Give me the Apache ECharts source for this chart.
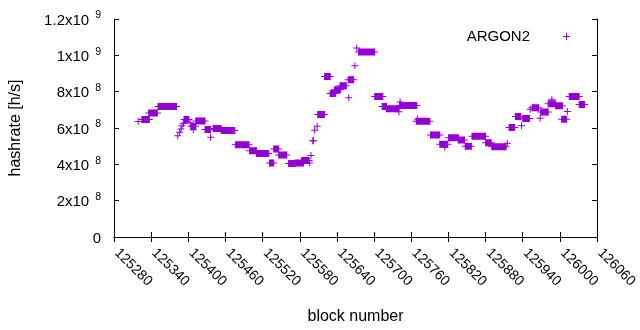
<!DOCTYPE html>
<html>
<head>
<meta charset="utf-8">
<script src="https://cdn.jsdelivr.net/npm/echarts@6/dist/echarts.min.js"></script>
<style>
  html, body { margin: 0; padding: 0; background: #fff; }
  #chart { width: 640px; height: 330px; }
</style>
</head>
<body>
<div id="chart"></div>
<script>
// runs of blocks with the same hashrate (a single point when from == to)
const blockFrom = [
  125319, 125325, 125336, 125351, 125383, 125386, 125388, 125390, 125392, 125393,
  125403, 125404, 125408, 125412, 125427, 125436, 125440, 125453, 125476, 125499,
  125510, 125531, 125538, 125546, 125562, 125573, 125583, 125596, 125598, 125601,
  125604, 125608, 125609, 125620, 125629, 125636, 125645, 125659, 125658, 125669,
  125672, 125675, 125701, 125713, 125720, 125740, 125742, 125741, 125770, 125768,
  125791, 125806, 125814, 125820, 125836, 125847, 125858, 125880, 125890, 125915,
  125918, 125928, 125938, 125940, 125952, 125955, 125968, 125969, 125987, 125981,
  125993, 126003, 126012, 126015, 126031
]
const blockTo = [
  125319, 125337, 125350, 125381, 125383, 125386, 125388, 125390, 125392, 125401,
  125403, 125412, 125408, 125427, 125436, 125436, 125453, 125475, 125498, 125510,
  125530, 125538, 125546, 125559, 125572, 125586, 125595, 125596, 125598, 125602,
  125604, 125608, 125620, 125629, 125638, 125646, 125655, 125659, 125667, 125669,
  125672, 125701, 125714, 125720, 125740, 125740, 125742, 125769, 125770, 125790,
  125806, 125819, 125814, 125836, 125846, 125857, 125880, 125889, 125913, 125915,
  125927, 125937, 125938, 125951, 125952, 125966, 125968, 125981, 125987, 125993,
  126004, 126011, 126012, 126031, 126040
]
// hashrate in units of 1e8 h/s
const hashrate = [
  6.36, 6.47, 6.83, 7.18, 5.57, 5.76, 5.94, 6.12, 6.25, 6.47,
  6.27, 6.10, 5.90, 6.38, 5.92, 5.49, 5.97, 5.86, 5.08, 4.75,
  4.60, 4.08, 4.85, 4.52, 4.04, 4.07, 4.21, 4.08, 4.48, 5.30,
  5.88, 6.10, 6.74, 8.83, 7.90, 8.11, 8.33, 7.67, 8.65, 9.42,
  10.40, 10.18, 7.73, 7.19, 7.06, 6.89, 7.43, 7.24, 6.49, 6.37,
  5.62, 5.10, 4.94, 5.47, 5.34, 5.00, 5.55, 5.19, 4.97, 5.16,
  6.03, 6.63, 6.12, 6.52, 7.03, 7.12, 6.53, 6.88, 7.58, 7.34,
  7.23, 6.48, 6.91, 7.74, 7.29
]
const yTickBase = ['0', '2x10', '4x10', '6x10', '8x10', '1x10', '1.2x10']
const yTickExp = ['', '8', '8', '8', '8', '9', '9']

const purple = '#9400d3'
const font = '"Liberation Sans", Arial, sans-serif'
const plus = 'path://M3,0h1v7h-1zM0,3h7v1h-7z'

const points = []
const runSeries = []
for (let i = 0; i < blockFrom.length; i++) {
  const v = hashrate[i] * 1e8
  points.push([blockFrom[i], v])
  if (blockTo[i] !== blockFrom[i]) {
    points.push([blockTo[i], v])
    runSeries.push({
      type: 'line',
      data: [[blockFrom[i], v], [blockTo[i], v]],
      showSymbol: false,
      silent: true,
      lineStyle: { color: purple, width: 7, cap: 'butt' },
      z: 1
    })
  }
}

const chart = echarts.init(document.getElementById('chart'))
const tickStyle = { show: true, inside: true, length: 5, lineStyle: { color: '#000' } }
const lineStyle = { show: true, lineStyle: { color: '#000', width: 1 } }

chart.setOption({
  animation: false,
  backgroundColor: '#fff',
  textStyle: { fontFamily: font },
  grid: { left: 114, top: 19, width: 495, height: 220 },
  legend: {
    right: 65,
    top: 24,
    align: 'right',
    itemWidth: 7,
    itemHeight: 7,
    data: [{ name: 'ARGON2', icon: plus }],
    textStyle: { fontSize: 15, color: '#000', padding: [0, 28, 0, 0] }
  },
  xAxis: [
    {
      type: 'value',
      min: 125280,
      max: 126060,
      interval: 60,
      name: 'block number',
      nameLocation: 'middle',
      nameGap: 72,
      nameTextStyle: { fontSize: 16, color: '#000' },
      axisLine: lineStyle,
      axisTick: tickStyle,
      splitLine: { show: false },
      axisLabel: {
        rotate: -45,
        margin: 11,
        fontSize: 14,
        color: '#000',
        padding: [0, 0, 0, 4],
        formatter: function (val) { return String(val) }
      }
    },
    {
      type: 'value',
      position: 'top',
      min: 125280,
      max: 126060,
      interval: 60,
      axisLine: lineStyle,
      axisTick: tickStyle,
      splitLine: { show: false },
      axisLabel: { show: false }
    }
  ],
  yAxis: [
    {
      type: 'value',
      min: 0,
      max: 1.2e9,
      interval: 2e8,
      name: 'hashrate [h/s]',
      nameLocation: 'middle',
      nameGap: 90,
      nameTextStyle: { fontSize: 16, color: '#000' },
      axisLine: lineStyle,
      axisTick: tickStyle,
      splitLine: { show: false },
      axisLabel: {
        margin: 13,
        color: '#000',
        fontSize: 15,
        formatter: function (val) {
          const i = Math.round(val / 2e8)
          if (!yTickExp[i]) return '{b|' + yTickBase[i] + '}'
          return '{b|' + yTickBase[i] + '}{s|' + yTickExp[i] + '}'
        },
        rich: {
          b: { fontSize: 15, lineHeight: 18, color: '#000', verticalAlign: 'bottom' },
          s: { fontSize: 10.5, lineHeight: 10.5, color: '#000', verticalAlign: 'top', padding: [0, 0, 0, 6] }
        }
      }
    },
    {
      type: 'value',
      position: 'right',
      min: 0,
      max: 1.2e9,
      interval: 2e8,
      axisLine: lineStyle,
      axisTick: tickStyle,
      splitLine: { show: false },
      axisLabel: { show: false }
    }
  ],
  series: [
    {
      name: 'ARGON2',
      type: 'scatter',
      symbol: plus,
      symbolSize: 7,
      itemStyle: { color: purple, opacity: 1 },
      data: points,
      z: 2
    }
  ].concat(runSeries)
})
</script>
</body>
</html>
